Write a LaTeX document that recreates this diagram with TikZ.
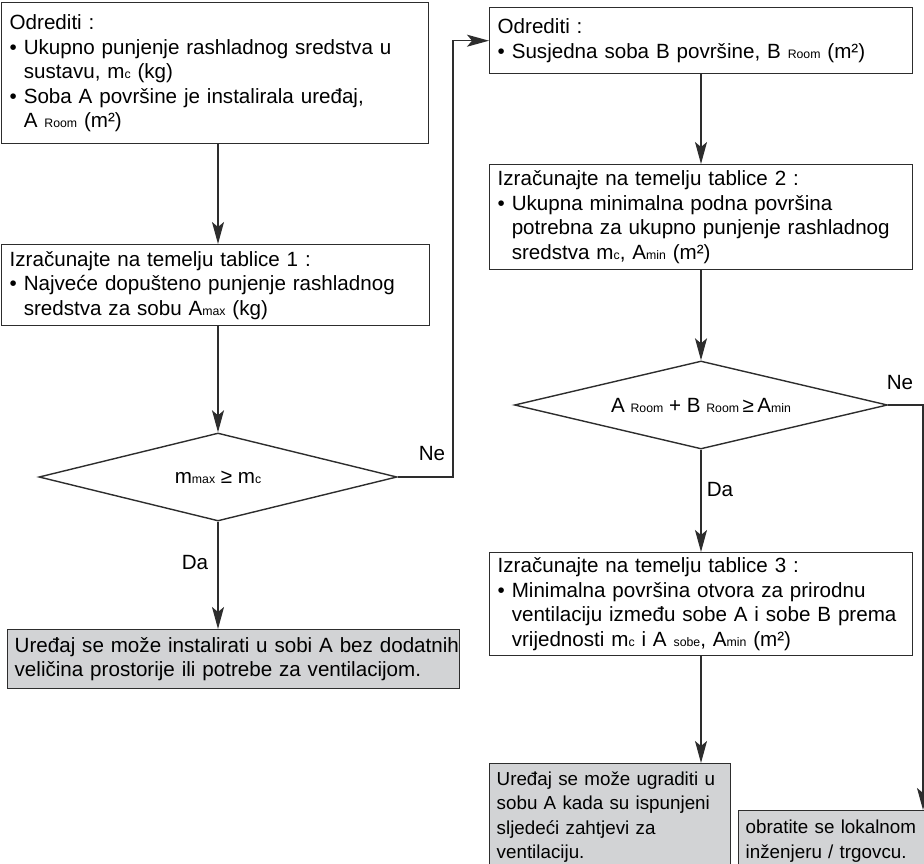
\documentclass[tikz,border=0pt]{standalone}
\usepackage{fontspec}
\setmainfont{Liberation Sans}
\usetikzlibrary{shapes.geometric,arrows.meta}
\definecolor{linecol}{RGB}{45,45,45}
\definecolor{boxgray}{RGB}{210,211,213}
\newcommand\smallsub[1]{{\fontsize{12.3}{12}\selectfont #1}}
\newcommand\ind{\hphantom{•\ }}
\newcommand\ol[1]{\mbox{#1}}
\tikzset{
  basefont/.style={font=\fontsize{20.6}{24.5}\selectfont},
  box/.style={draw=linecol, line width=1.4pt, anchor=north west, inner xsep=8pt, inner ysep=0pt, align=left, basefont, text=black},
  graybox/.style={box, fill=boxgray, inner xsep=7pt},
  smallgray/.style={graybox, font=\fontsize{18.8}{24.5}\selectfont},
  dia/.style={diamond, draw=linecol, line width=1.4pt, inner sep=0pt, aspect=4, basefont},
  arr/.style={draw=linecol, line width=1.4pt, -{Stealth[length=22pt,width=12pt,inset=5pt]}},
  lbl/.style={basefont, inner sep=0pt}
}
\begin{document}
\begin{tikzpicture}[x=1pt,y=-1pt]
\useasboundingbox (0,0) rectangle (924,864);
\clip (0,0) rectangle (924,864);
% left column
\node[box, minimum width=427, minimum height=141, text width=411] (b1) at (1,2)
 {\ol{Odrediti :}\\
 \ol{• Ukupno punjenje rashladnog sredstva u}\\
 \ol{\ind sustavu, m\smallsub{c} (kg)}\\
 \ol{• Soba A površine je instalirala uređaj,}\\
 \ol{\ind A \smallsub{Room} (m²)}};
\node[box, minimum width=428, minimum height=81, text width=412] (b2) at (1,244)
 {\ol{Izračunajte na temelju tablice 1 :}\\
 \ol{• Najveće dopušteno punjenje rashladnog}\\
 \ol{\ind sredstva za sobu A\smallsub{max} (kg)}};
\node[dia, minimum width=358, minimum height=88] (d1) at (218,477)
 {m\smallsub{max} ≥ m\smallsub{c}};
\node[graybox, minimum width=452, minimum height=59, text width=438] (b8) at (7,629)
 {\ol{Uređaj se može instalirati u sobi A bez dodatnih}\\
 \ol{veličina prostorije ili potrebe za ventilacijom.}};
% right column
\node[box, minimum width=423, minimum height=66, text width=407] (b3) at (489,7)
 {\ol{Odrediti :}\\
 \ol{• Susjedna soba B površine, B \smallsub{Room} (m²)}};
\node[box, minimum width=423, minimum height=105, text width=407] (b4) at (489,164)
 {\ol{Izračunajte na temelju tablice 2 :}\\
 \ol{• Ukupna minimalna podna površina}\\
 \ol{\ind potrebna za ukupno punjenje rashladnog}\\
 \ol{\ind sredstva m\smallsub{c}, A\smallsub{min} (m²)}};
\node[dia, minimum width=373, minimum height=88] (d2) at (701,405)
 {A \smallsub{Room} + B \smallsub{Room}\,≥\,A\smallsub{min}};
\node[box, minimum width=423, minimum height=103, text width=407] (b5) at (489,552)
 {\ol{Izračunajte na temelju tablice 3 :}\\
 \ol{• Minimalna površina otvora za prirodnu}\\
 \ol{\ind ventilaciju između sobe A i sobe B prema}\\
 \ol{\ind vrijednosti m\smallsub{c} i A \smallsub{sobe}, A\smallsub{min} (m²)}};
\node[smallgray, minimum width=241, minimum height=107, text width=227] (b6) at (489,763)
 {\ol{Uređaj se može ugraditi u}\\
 \ol{sobu A kada su ispunjeni}\\
 \ol{sljedeći zahtjevi za}\\
 \ol{ventilaciju.}};
\node[smallgray, minimum width=230, minimum height=61, text width=216] (b7) at (738,810)
 {\ol{obratite se lokalnom}\\
 \ol{inženjeru / trgovcu.}};
% helper coordinates
\coordinate (lx) at (453,0);
\coordinate (rx) at (923,0);
% connectors
\draw[arr] (b1.south -| d1.center) -- (b2.north -| d1.center);
\draw[arr] (b2.south -| d1.north) -- (d1.north);
\draw[arr] (d1.south) -- (b8.north -| d1.south);
\draw[arr] (d1.east) -- (d1.east -| lx) -- (lx |- b3.west) -- (b3.west);
\draw[arr] (b3.south -| d2.north) -- (b4.north -| d2.north);
\draw[arr] (b4.south -| d2.north) -- (d2.north);
\draw[arr] (d2.south) -- (b5.north -| d2.south);
\draw[arr] (b5.south -| d2.south) -- (b6.north -| d2.south);
\draw[arr] (d2.east) -- (d2.east -| rx) -- (rx |- b7.north);
% labels
\node[lbl] (lne1) at (432,454) {Ne};
\node[lbl] (lda1) at (195,563) {Da};
\node[lbl] (lne2) at (900,383) {Ne};
\node[lbl] (lda2) at (720,490) {Da};
\end{tikzpicture}
\end{document}
